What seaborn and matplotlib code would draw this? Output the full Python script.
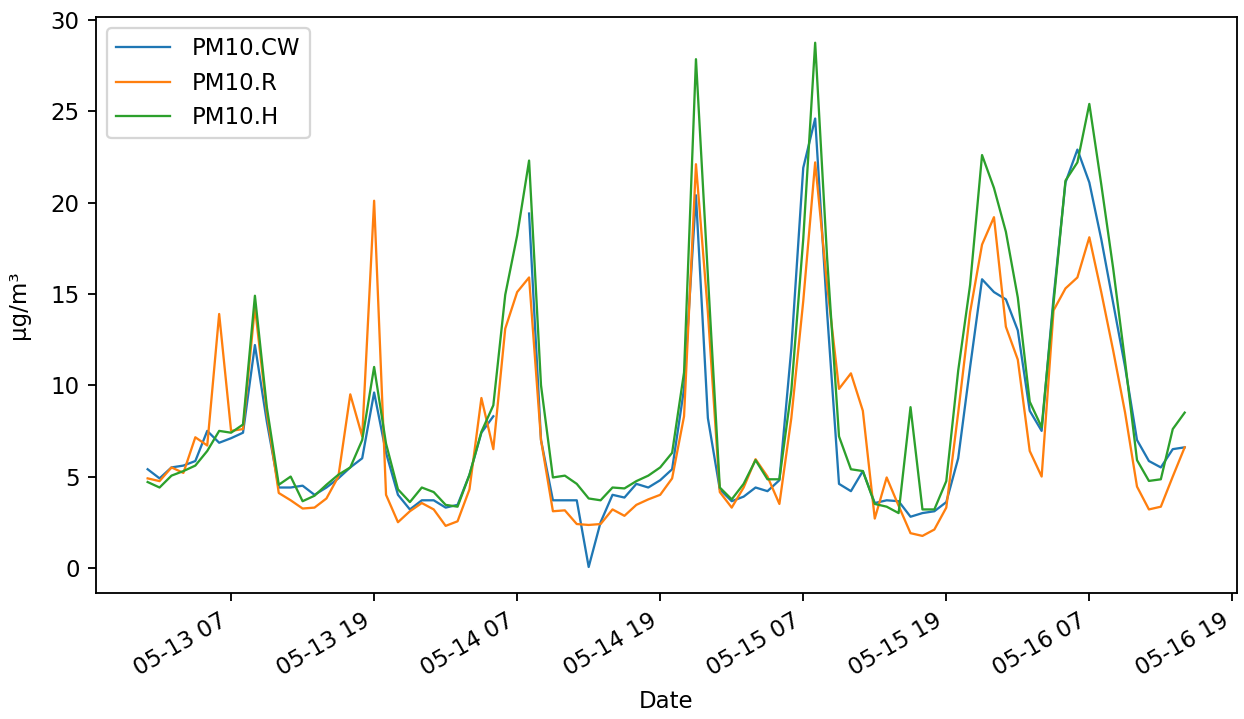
import matplotlib
matplotlib.use("Agg")
import matplotlib.pyplot as plt
import matplotlib.dates as mdates
import seaborn as sns
import pandas as pd
import numpy as np

start_time = "2021-05-13 00:00"
n_hours = 88
nan = float("nan")

pm10_cw = [5.4, 4.9, 5.5, 5.6, 5.85, 7.5, 6.85, 7.1, 7.4, 12.2,
           8.0, 4.4, 4.4, 4.5, 4.0, 4.4, 4.9, 5.5, 6.0, 9.6,
           6.3, 4.0, 3.2, 3.7, 3.7, 3.3, 3.45, 5.1, 7.4, 8.3,
           nan, nan, 19.4, 7.0, 3.7, 3.7, 3.7, 0.05, 2.5, 4.0,
           3.85, 4.6, 4.4, 4.8, 5.4, 9.8, 20.4, 8.2, 4.3, 3.65,
           3.9, 4.4, 4.2, 4.8, 12.0, 21.9, 24.6, 14.0, 4.6, 4.2,
           5.3, 3.55, 3.7, 3.65, 2.8, 3.0, 3.1, 3.6, 6.0, 11.0,
           15.8, 15.1, 14.7, 13.0, 8.6, 7.5, 14.8, 21.1, 22.9, 21.1,
           18.0, 14.5, 11.0, 7.0, 5.85, 5.5, 6.5, 6.6]

pm10_r = [4.9, 4.75, 5.5, 5.2, 7.15, 6.7, 13.9, 7.5, 7.6, 14.3,
          8.5, 4.1, 3.7, 3.25, 3.3, 3.8, 5.0, 9.5, 7.2, 20.1,
          4.0, 2.5, 3.1, 3.55, 3.2, 2.3, 2.55, 4.3, 9.3, 6.5,
          13.1, 15.1, 15.9, 7.0, 3.1, 3.15, 2.4, 2.35, 2.4, 3.2,
          2.85, 3.45, 3.75, 4.0, 4.9, 8.3, 22.1, 14.0, 4.15, 3.3,
          4.4, 5.95, 5.0, 3.5, 8.2, 14.6, 22.2, 15.5, 9.8, 10.65,
          8.6, 2.7, 4.95, 3.4, 1.9, 1.75, 2.1, 3.3, 8.5, 14.0,
          17.7, 19.2, 13.2, 11.4, 6.4, 5.0, 14.1, 15.3, 15.9, 18.1,
          15.1, 11.9, 8.5, 4.45, 3.2, 3.35, 5.0, 6.6]

pm10_h = [4.7, 4.4, 5.05, 5.3, 5.6, 6.4, 7.5, 7.4, 7.85, 14.9,
          8.8, 4.55, 5.0, 3.65, 3.95, 4.55, 5.1, 5.5, 7.0, 11.0,
          6.8, 4.3, 3.6, 4.4, 4.15, 3.45, 3.35, 5.1, 7.45, 8.9,
          14.95, 18.2, 22.3, 10.0, 4.95, 5.05, 4.6, 3.8, 3.7, 4.4,
          4.35, 4.75, 5.05, 5.5, 6.3, 10.7, 27.85, 16.0, 4.4, 3.75,
          4.6, 5.9, 4.85, 4.85, 9.7, 18.0, 28.75, 17.0, 7.2, 5.4,
          5.3, 3.5, 3.35, 3.0, 8.8, 3.2, 3.2, 4.75, 10.8, 15.5,
          22.6, 20.8, 18.4, 14.8, 9.1, 7.7, 14.5, 21.2, 22.2, 25.4,
          21.0, 16.4, 11.3, 5.9, 4.76, 4.85, 7.6, 8.5]

series_names = ["PM10.CW", "PM10.R", "PM10.H"]
series_colors = ["#1f77b4", "#ff7f0e", "#2ca02c"]

dates = pd.date_range(start_time, periods=n_hours, freq="h")
df = pd.DataFrame({"Date": dates,
                   "PM10.CW": pm10_cw,
                   "PM10.R": pm10_r,
                   "PM10.H": pm10_h})

plt.rcParams["font.family"] = ["DejaVu Sans"]
fig = plt.figure(figsize=(1244 / 165, 719 / 165), dpi=165)
ax = fig.add_axes([0.077, 0.175, 0.994 - 0.077, 0.977 - 0.175])

for name, col in zip(series_names, series_colors):
    sub = df[["Date", name]].copy()
    # break the line where values are missing
    seg_id = sub[name].isna().cumsum()
    sub = sub.assign(seg=seg_id).dropna()
    first = True
    for _, part in sub.groupby("seg"):
        sns.lineplot(data=part, x="Date", y=name, ax=ax, color=col,
                     linewidth=1.0, label=name if first else None)
        first = False

ax.xaxis.set_major_locator(mdates.HourLocator(byhour=[7, 19]))
ax.xaxis.set_major_formatter(mdates.DateFormatter("%m-%d %H"))
for lab in ax.get_xticklabels():
    lab.set_rotation(30)
    lab.set_ha("right")

ax.set_xlabel("Date")
ax.set_ylabel("μg/m³")
ax.yaxis.set_label_coords(-0.058, 0.5)
ax.legend(loc="upper left", handlelength=2.35, handletextpad=0.95)

fig.savefig("out.png", dpi=165)
